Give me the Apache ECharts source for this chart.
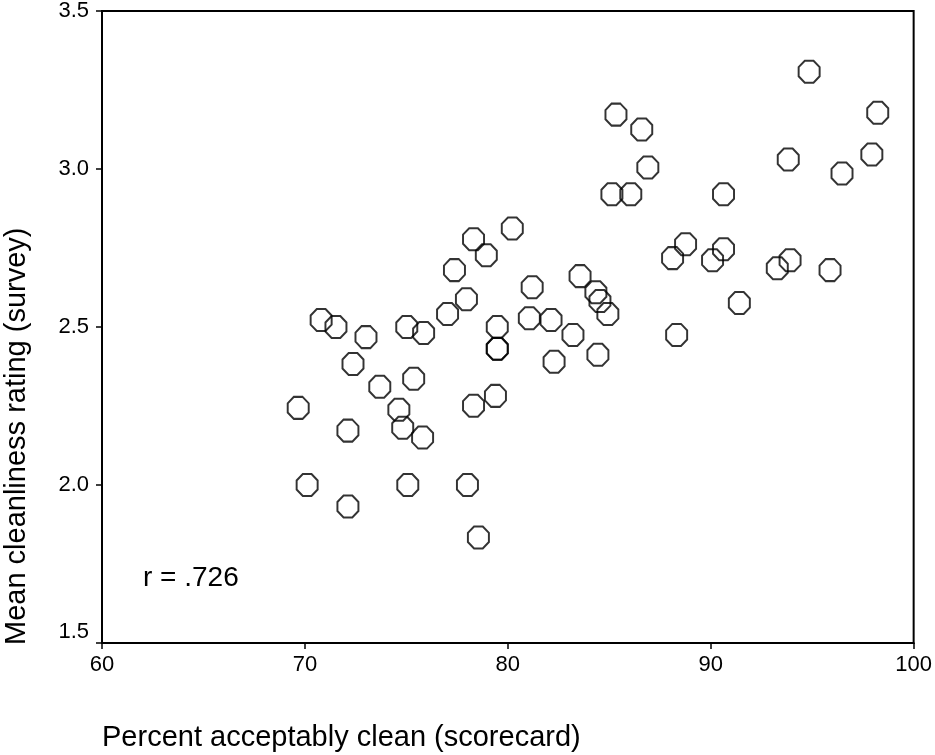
<!DOCTYPE html>
<html>

<head>
    <meta charset="UTF-8">
    <title>Cleanliness scatter</title>
    <script src="https://cdn.jsdelivr.net/npm/echarts@6.0.0/dist/echarts.min.js"></script>
    <style>
        html, body { margin: 0; padding: 0; background: #fff; }
    </style>
</head>

<body>
    <div id="main" style="width: 935px; height: 755px;"></div>
    <script>
        // percent acceptably clean (scorecard)
        const scorecard = [
            69.67, 70.11, 70.80, 71.53, 72.12, 72.12, 72.37, 73.01, 73.69, 74.63,
            74.82, 75.02, 75.07, 75.36, 75.85, 75.80, 77.03, 77.37, 77.96, 78.01,
            78.31, 78.31, 78.55, 78.94, 79.39, 79.48, 79.48, 79.48, 80.22, 81.06,
            81.20, 82.13, 82.28, 83.21, 83.56, 84.34, 84.54, 84.44, 84.93, 85.13,
            85.33, 86.06, 86.60, 86.90, 88.12, 88.32, 88.76, 90.09, 90.63, 90.63,
            91.41, 93.28, 93.82, 93.91, 94.85, 95.88, 96.47, 97.94, 98.23
        ];
        // mean cleanliness rating (survey)
        const survey = [
            2.244, 2.000, 2.522, 2.500, 2.172, 1.932, 2.383, 2.468, 2.311, 2.238,
            2.181, 2.500, 2.000, 2.336, 2.481, 2.150, 2.541, 2.680, 2.588, 2.000,
            2.778, 2.251, 1.834, 2.727, 2.282, 2.500, 2.431, 2.431, 2.812, 2.528,
            2.626, 2.522, 2.390, 2.475, 2.661, 2.610, 2.582, 2.412, 2.541, 2.920,
            3.172, 2.920, 3.125, 3.005, 2.718, 2.475, 2.762, 2.711, 2.920, 2.746,
            2.576, 2.686, 3.030, 2.711, 3.308, 2.680, 2.986, 3.046, 3.178
        ];

        const xTitle = 'Percent acceptably clean (scorecard)';
        const yTitle = 'Mean cleanliness rating (survey)';
        const note = 'r = .726';

        const points = scorecard.map((x, i) => [x, survey[i]]);

        // open octagon marker
        const octagon = 'path://M0.383,-0.924L0.924,-0.383L0.924,0.383L0.383,0.924L-0.383,0.924L-0.924,0.383L-0.924,-0.383L-0.383,-0.924Z';
        const font = "'Liberation Sans', Arial, sans-serif";

        const axisCommon = {
            type: 'value',
            axisLine: { show: true, onZero: false, lineStyle: { color: '#000', width: 2 } },
            axisTick: { show: true, inside: false, length: 6, lineStyle: { color: '#000', width: 1.5 } },
            splitLine: { show: false },
            axisLabel: { color: '#000', fontSize: 22, fontFamily: font }
        };

        const option = {
            animation: false,
            backgroundColor: '#fff',
            grid: {
                left: 102, right: 18, top: 9, bottom: 112,
                show: true, borderColor: '#000', borderWidth: 2
            },
            xAxis: Object.assign({}, axisCommon, {
                min: 60, max: 100, interval: 10,
                axisLabel: Object.assign({}, axisCommon.axisLabel, { margin: 11 })
            }),
            yAxis: Object.assign({}, axisCommon, {
                min: 1.5, max: 3.5, interval: 0.5,
                axisLabel: Object.assign({}, axisCommon.axisLabel, {
                    margin: 13,
                    verticalAlignMinLabel: 'bottom',
                    formatter: v => v.toFixed(1)
                })
            }),
            graphic: [
                {
                    type: 'text', left: 143, top: 564,
                    style: { text: note, fill: '#000', fontSize: 28, fontFamily: font }
                },
                {
                    type: 'text', left: 102, top: 723,
                    style: { text: xTitle, fill: '#000', fontSize: 29, fontFamily: font }
                },
                {
                    type: 'text', x: 17, y: 645, rotation: Math.PI / 2,
                    style: {
                        text: yTitle, fill: '#000', fontSize: 29, fontFamily: font,
                        textAlign: 'left', textVerticalAlign: 'middle'
                    }
                }
            ],
            series: [
                {
                    type: 'scatter',
                    data: points,
                    symbol: octagon,
                    symbolSize: [21, 22],
                    itemStyle: { color: 'rgba(0,0,0,0)', borderColor: '#000', borderWidth: 2 },
                    emphasis: { disabled: true }
                }
            ]
        };

        const myChart = echarts.init(document.getElementById('main'));
        myChart.setOption(option);
    </script>
</body>

</html>
